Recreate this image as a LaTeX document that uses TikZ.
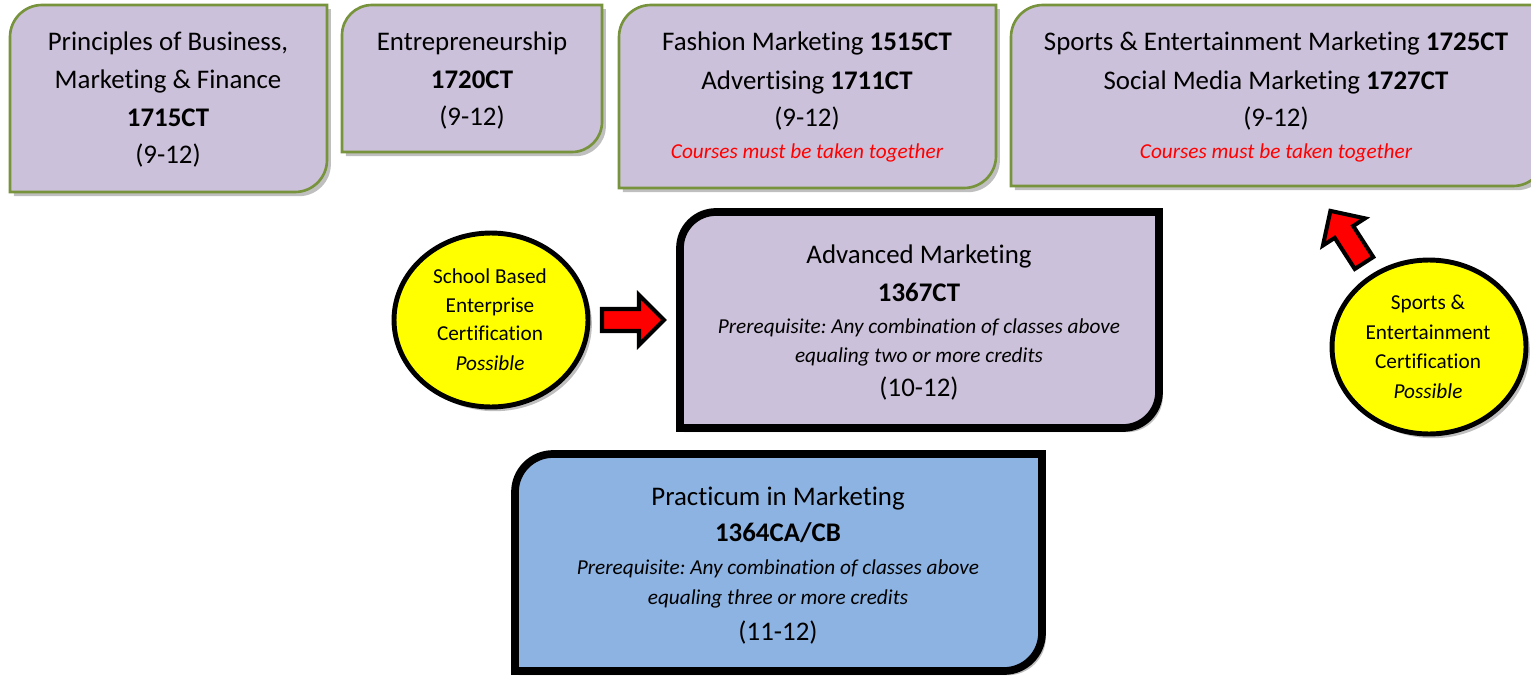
\documentclass[tikz,border=0pt]{standalone}
\usepackage{fontspec}
\setmainfont[Ligatures={NoCommon}]{Carlito}
\usetikzlibrary{shapes.geometric,shadows}
\frenchspacing
\definecolor{lav}{HTML}{CCC1DA}
\definecolor{grn}{HTML}{77933C}
\definecolor{blu}{HTML}{8DB3E2}
\definecolor{ylw}{HTML}{FFFF00}
\definecolor{redf}{HTML}{FF0000}
\newcommand\mainf{\fontsize{15.3}{18}\selectfont}
\newcommand\smallf{\fontsize{12.1}{14}\selectfont}
% box with rounded top-left and bottom-right corners
\newcommand\tlbrbox[6]{%
  \path[#1] (#2,#5) -- (#2,#3+#6) .. controls (#2,#3+0.448*#6) and (#2+0.448*#6,#3) .. (#2+#6,#3)
    -- (#4,#3) -- (#4,#5-#6) .. controls (#4,#5-0.448*#6) and (#4-0.448*#6,#5) .. (#4-#6,#5) -- cycle;}
\newcommand\blockarrow[2]{%
  \begin{scope}[shift={#1}, rotate=#2]
    \path[redarrow] (0,-11) -- (37,-11) -- (37,-25) -- (62,0) -- (37,25) -- (37,11) -- (0,11) -- cycle;
  \end{scope}}
\tikzset{
  shad/.style={drop shadow={shadow xshift=2.2pt, shadow yshift=-2.4pt, opacity=0.25, fill=black}},
  course/.style={fill=lav, draw=grn, line width=1.5pt, shad},
  adv/.style={fill=lav, draw=black, line width=4.4pt, shad},
  prac/.style={fill=blu, draw=black, line width=4.4pt, shad},
  cert/.style={ellipse, fill=ylw, draw=black, line width=2.8pt, minimum width=3.88cm, minimum height=3.48cm, inner sep=0pt, shad},
  redarrow/.style={fill=redf, draw=black, line width=2.3pt, line join=miter},
  ln/.style={anchor=base, inner sep=0pt, font=\mainf},
  bl/.style={anchor=base, inner sep=0pt, font=\mainf\bfseries},
  it/.style={anchor=base, inner sep=0pt, font=\smallf\itshape},
  rd/.style={anchor=base, inner sep=0pt, font=\smallf\itshape, text=redf},
  ct/.style={anchor=base, inner sep=0pt, font=\smallf},
}
\begin{document}
\begin{tikzpicture}[x=0.02cm, y=-0.02cm]
\useasboundingbox (0,0) rectangle (1531,676);
\fill[white] (0,0) rectangle (1531,676);

% course boxes
\tlbrbox{course}{10}{5}{327}{192}{32}
\node[ln] (b1a) at (168,51) {Principles of Business,};
\node[ln] (b1b) at (168,88) {Marketing \& Finance};
\node[bl] (b1c) at (168,126) {1715CT};
\node[ln] (b1d) at (168,163) {(9-12)};

\tlbrbox{course}{342}{5}{602}{152}{30}
\node[ln] (b2a) at (472,51) {Entrepreneurship};
\node[bl] (b2b) at (472,88) {1720CT};
\node[ln] (b2c) at (472,125) {(9-12)};

\tlbrbox{course}{619}{5}{996}{188}{32}
\node[ln] (b3a) at (807,51) {Fashion Marketing \textbf{1515CT}};
\node[ln] (b3b) at (807,89) {Advertising \textbf{1711CT}};
\node[ln] (b3c) at (807,126) {(9-12)};
\node[rd] (b3d) at (807,158) {Courses must be taken together};

\tlbrbox{course}{1011}{5}{1545}{186}{32}
\node[ln] (b4a) at (1276,51) {Sports \& Entertainment Marketing \textbf{1725CT}};
\node[ln] (b4b) at (1276,89) {Social Media Marketing \textbf{1727CT}};
\node[ln] (b4c) at (1276,126) {(9-12)};
\node[rd] (b4d) at (1276,158) {Courses must be taken together};

% advanced marketing
\tlbrbox{adv}{680}{212}{1159}{428}{36}
\node[ln] (ada) at (919,263) {Advanced Marketing};
\node[bl] (adb) at (919,301) {1367CT};
\node[it] (adc) at (919,333) {Prerequisite: Any combination of classes above};
\node[it] (add) at (919,362) {equaling two or more credits};
\node[ln] (ade) at (919,396) {(10-12)};

% practicum
\tlbrbox{prac}{515}{454}{1042}{671}{38}
\node[ln] (pra) at (778,505) {Practicum in Marketing};
\node[bl] (prb) at (778,541) {1364CA/CB};
\node[it] (prc) at (778,574) {Prerequisite: Any combination of classes above};
\node[it] (prd) at (778,604) {equaling three or more credits};
\node[ln] (pre) at (778,640) {(11-12)};

% certifications
\node[cert] (sbe) at (491,320) {};
\node[ct] (sbea) at (490,283) {School Based};
\node[ct] (sbeb) at (490,312) {Enterprise};
\node[ct] (sbec) at (490,340) {Certification};
\node[it] (sbed) at (490,370) {Possible};

\node[cert] (sec) at (1429,347) {};
\node[ct] (seca) at (1428,309) {Sports \&};
\node[ct] (secb) at (1428,339) {Entertainment};
\node[ct] (secc) at (1428,368) {Certification};
\node[it] (secd) at (1428,398) {Possible};

% block arrows
\blockarrow{(602,320)}{0}
\blockarrow{(1364,263)}{122.8}
\end{tikzpicture}
\end{document}
